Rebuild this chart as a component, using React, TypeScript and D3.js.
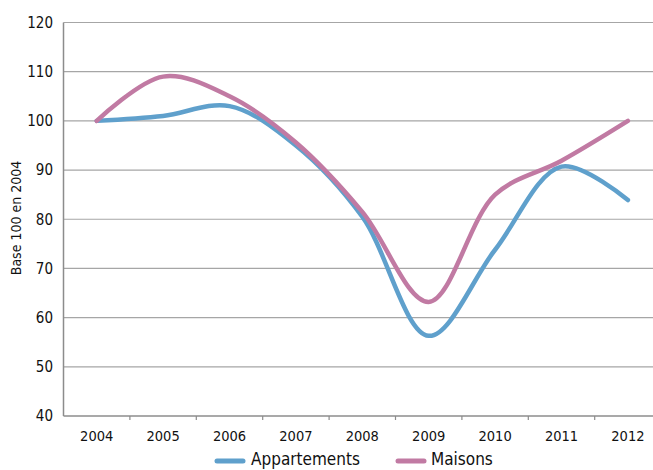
import React from "react";
import * as d3 from "d3";

const years = ["2004", "2005", "2006", "2007", "2008", "2009", "2010", "2011", "2012"];
const appartements = [100, 101, 103, 95, 80.5, 56.3, 73.8, 90.7, 83.9];
const maisons = [100, 109, 105, 95.6, 81.5, 63.2, 85, 91.9, 100];
const yTicks = [40, 50, 60, 70, 80, 90, 100, 110, 120];

const W = 653, H = 470;
const left = 63.5, bandW = 66.4, top = 22.5, bottom = 416;
const FONT = "'Liberation Sans Narrow', 'Arial Narrow', 'DejaVu Sans Condensed', sans-serif";
const BLUE = "#5fa0cc";
const PINK = "#c17aa3";

export default function App() {
  const x = d3.scaleBand<string>().domain(years).range([left, left + bandW * years.length]);
  const y = d3.scaleLinear().domain([40, 120]).range([bottom, top]);
  const line = d3
    .line<number>()
    .x((_, i) => (x(years[i]) as number) + x.bandwidth() / 2)
    .y((d) => y(d))
    .curve(d3.curveCatmullRom.alpha(0.5));
  const series = [
    { name: "Appartements", values: appartements, color: BLUE },
    { name: "Maisons", values: maisons, color: PINK },
  ];
  return (
    <svg width={W} height={H} style={{ position: "absolute", left: 0, top: 0, background: "#fff" }}>
      {yTicks.map((t) => (
        <g key={t}>
          {t > 40 && <line x1={left} x2={W} y1={y(t)} y2={y(t)} stroke="#a6a6a6" strokeWidth={1.2} />}
          <text x={53} y={y(t)} dy="0.35em" textAnchor="end" fontFamily={FONT} fontSize={15} fill="#111">
            {t}
          </text>
        </g>
      ))}
      <line x1={left} x2={left} y1={top} y2={bottom} stroke="#8c8c8c" strokeWidth={1.5} />
      <line x1={left} x2={W} y1={bottom} y2={bottom} stroke="#8c8c8c" strokeWidth={1.5} />
      {years.map((yr) => (
        <g key={yr}>
          <line
            x1={(x(yr) as number) + bandW}
            x2={(x(yr) as number) + bandW}
            y1={bottom}
            y2={bottom + 4}
            stroke="#8c8c8c"
            strokeWidth={1.2}
          />
          <text
            x={(x(yr) as number) + bandW / 2}
            y={441}
            textAnchor="middle"
            fontFamily={FONT}
            fontSize={14.5}
            fill="#111"
          >
            {yr}
          </text>
        </g>
      ))}
      <text
        transform={`translate(21,218) rotate(-90)`}
        textAnchor="middle"
        fontFamily={FONT}
        fontSize={14}
        fill="#111"
      >
        Base 100 en 2004
      </text>
      {series.map((s) => (
        <path
          key={s.name}
          d={line(s.values) || ""}
          fill="none"
          stroke={s.color}
          strokeWidth={4.5}
          strokeLinecap="round"
          strokeLinejoin="round"
        />
      ))}
      <line x1={217} x2={243} y1={461} y2={461} stroke={BLUE} strokeWidth={5} strokeLinecap="round" />
      <text x={251} y={465} fontFamily={FONT} fontSize={17} fill="#111">
        Appartements
      </text>
      <line x1={398} x2={424} y1={461} y2={461} stroke={PINK} strokeWidth={5} strokeLinecap="round" />
      <text x={431} y={465} fontFamily={FONT} fontSize={17} fill="#111">
        Maisons
      </text>
    </svg>
  );
}
